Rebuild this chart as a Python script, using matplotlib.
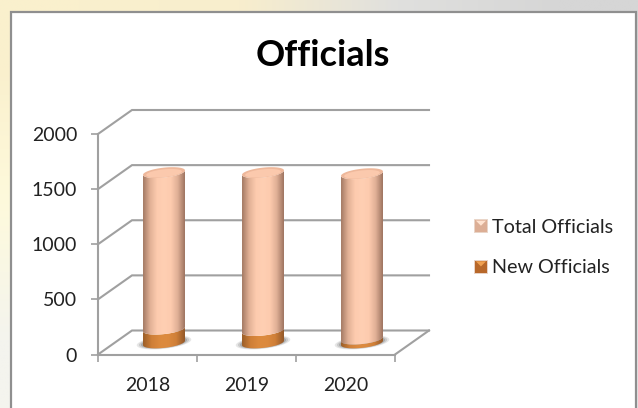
import matplotlib.pyplot as plt
import numpy as np
from matplotlib.colors import LinearSegmentedColormap
from matplotlib.legend_handler import HandlerBase
from matplotlib.patches import Patch, Polygon, Rectangle

years = ['2018', '2019', '2020']
new_officials = [125, 112, 35]
total_officials = [1420, 1433, 1500]
y_ticks = [0, 500, 1000, 1500, 2000]

plt.rcParams['font.family'] = ['Lato', 'DejaVu Sans']

fig = plt.figure(figsize=(6.38, 4.08), dpi=100)

# slide background behind the chart box
bg = fig.add_axes([0, 0, 1, 1], zorder=0)
bg_colors = np.array([[[250, 240, 205], [248, 238, 205], [224, 224, 222], [214, 214, 214]],
                      [[254, 250, 220], [255, 255, 255], [255, 255, 255], [226, 226, 226]],
                      [[244, 244, 238], [255, 255, 255], [255, 255, 255], [232, 232, 232]]]) / 255
bg.imshow(bg_colors, aspect='auto', interpolation='bilinear', extent=(0, 1, 0, 1))
bg.axis('off')
bg.add_patch(Rectangle((11/638, -0.1), 625/638, 1.1 - 12/408, facecolor='white',
                       edgecolor='#8f8f8f', lw=1.6, transform=bg.transAxes))

ax = fig.add_axes([98/638, 53.5/408, 297/638, 220.5/408], zorder=1)
ax.patch.set_alpha(0)
ax.set_xlim(-0.5, 2.5)
ax.set_ylim(0, 2000)

grey = '#a0a0a0'
# depth of the fake 3d box, in data units
dx, dy = 34/99, 24/0.11025

for v in y_ticks:
    ax.plot([-0.5, -0.5 + dx, 2.5 + dx], [v, v + dy, v + dy], color=grey, lw=1.5,
            clip_on=False, zorder=1, solid_joinstyle='miter')
ax.plot([2.5, 2.5 + dx], [0, dy], color=grey, lw=1.5, clip_on=False, zorder=1)


def ellipse(xc, yc, t):
    # slightly tilted ellipse, right side higher
    return xc + 0.212*np.cos(t), yc + 45*np.sin(t) + 20*np.cos(t)


def gradient_cylinder(xc, y0, y1, cmap, z):
    t = np.linspace(np.pi, 2*np.pi, 40)
    xb, yb = ellipse(xc, y0, t)
    xt, yt = ellipse(xc, y1, t[::-1])
    poly = Polygon(np.column_stack([np.r_[xb, xt], np.r_[yb, yt]]), closed=True,
                   facecolor='none', edgecolor='none', transform=ax.transData)
    ax.add_patch(poly)
    im = ax.imshow(np.linspace(0, 1, 64).reshape(1, -1), cmap=cmap, aspect='auto',
                   extent=(xc - 0.212, xc + 0.212, y0 - 80, y1 + 80), zorder=z, clip_on=True)
    im.set_clip_path(poly)


peach = LinearSegmentedColormap.from_list('peach', ['#a67c66', '#e2b196', '#fdcbae', '#ffcfb3',
                                                    '#fdcbae', '#e0b096', '#a07662'])
orange = LinearSegmentedColormap.from_list('orange', ['#9c5f28', '#cf7f38', '#dc8a3e', '#dc8a3e',
                                                      '#cf7f38', '#94592a'])

t_full = np.linspace(0, 2*np.pi, 60)
base = 105
for i in range(len(years)):
    xc = i + dx/2 - 0.005
    top_new = base + new_officials[i]
    top_all = top_new + total_officials[i]

    # soft shadow on the floor
    for grow, a in [(1.3, 0.15), (1.2, 0.2), (1.1, 0.3)]:
        sx, sy = ellipse(xc, base + 5, t_full)
        ax.fill(xc + (sx - xc)*grow, base + 5 + (sy - base - 5)*grow, color='#606060', alpha=a,
                lw=0, zorder=2)

    gradient_cylinder(xc, base, top_new, orange, 3)
    gradient_cylinder(xc, top_new, top_all, peach, 4)

    ex, ey = ellipse(xc, top_all, t_full)
    ax.fill(ex, ey, color='#eeb89b', lw=0, zorder=5)
    ax.fill(xc + (ex - xc)*0.85, top_all + (ey - top_all)*0.8 - 6, color='#fbc9ad', lw=0, zorder=5)

ax.set_xlim(-0.5, 2.5)
ax.set_ylim(0, 2000)

for s in ['top', 'right']:
    ax.spines[s].set_visible(False)
for s in ['left', 'bottom']:
    ax.spines[s].set_color(grey)
    ax.spines[s].set_linewidth(1.5)
    ax.spines[s].set_zorder(1)

ax.set_xticks([0, 1, 2])
ax.set_xticklabels(years)
ax.set_xticks([-0.5, 0.5, 1.5, 2.5], minor=True)
ax.set_yticks(y_ticks)
ax.tick_params(axis='x', which='major', length=0, pad=16.5, labelsize=14, labelcolor='#222222')
ax.tick_params(axis='x', which='minor', length=5, width=1.2, color=grey)
ax.tick_params(axis='y', length=5, width=1.2, color=grey, pad=10, labelsize=14, labelcolor='#222222')

fig.text(322.5/638, 1 - 55/408, 'Officials', ha='center', va='center', fontsize=26,
         fontweight='bold', color='black')


class Swatch(HandlerBase):
    # legend key with the lighter wedge on top
    def create_artists(self, legend, orig, xd, yd, w, h, fontsize, trans):
        s = 9.4
        x0, y0 = xd*-1 + w - s, yd*-1 + (h - s)/2
        rect = Rectangle((x0, y0), s, s, facecolor=orig.get_facecolor(),
                         edgecolor=orig.get_edgecolor(), lw=0.7, transform=trans)
        tri = Polygon([[x0 + 1, y0 + s - 1], [x0 + s - 1, y0 + s - 1], [x0 + s/2, y0 + s/2]],
                      closed=True, facecolor=orig.get_hatch() or '#ffe3d0', lw=0, transform=trans)
        return [rect, tri]


handles = [Patch(facecolor='#dcae95', edgecolor='#e9d5c8', label='Total Officials'),
           Patch(facecolor='#b8682a', edgecolor='#e9d5c8', label='New Officials', hatch='#f0a050')]
fig.legend(handles=handles, handler_map={Patch: Swatch()}, loc='center left',
           bbox_to_anchor=(450/638, 1 - 247.5/408), frameon=False, fontsize=14.2,
           labelspacing=1.2, handlelength=1.0, handletextpad=0.25, labelcolor='#222222')

plt.savefig('out.png', dpi=100)
